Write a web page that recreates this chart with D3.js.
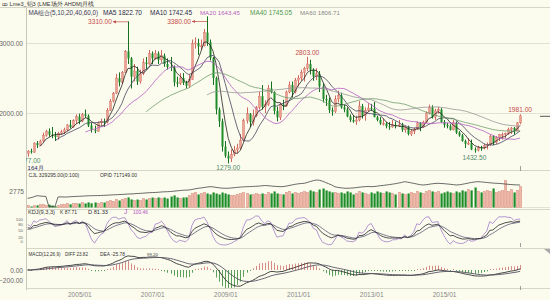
<!DOCTYPE html>
<html><head><meta charset="utf-8">
<script src="https://cdn.jsdelivr.net/npm/d3@7"></script>
<style>
body{margin:0;background:#fcfcee;}
svg{display:block;font-family:"Liberation Sans",Arial,sans-serif;}
</style></head>
<body><svg id="c" width="550" height="300"></svg>
<script>
// ---------- DATA (monthly, 2003/08 .. 2017/02) ----------
const startLabel = "2003/08";
const opens = [
1420,1455,1440,1570,1540,
1600,1680,1740,1690,1680,1660,1710,1730,1760,1830,1800,1890,
1950,1880,1980,1960,1820,1760,1740,1860,1880,1870,2040,2170,
2280,2500,2440,2580,2880,2780,2520,2600,2450,2560,2720,2700,
2850,2780,2850,2760,2820,2700,2660,2650,2440,2420,2500,2430,
2390,2480,2990,3000,2950,2960,3150,3010,2790,2500,2050,1880,
1520,1390,1350,1410,1470,1500,1610,1890,1990,1870,1960,2080,
2240,2090,2120,2350,2300,2030,1940,2120,2100,2300,2400,2300,
2470,2500,2580,2640,2700,2620,2520,2560,2380,2200,2180,2040,
2020,2200,2250,2080,2050,1950,1900,1880,1900,2100,1960,2040,
2070,2060,1940,1900,1850,1850,1810,1800,1830,1810,1830,1760,
1800,1700,1740,1770,1860,1800,1870,2000,2080,1940,2030,2050,
1870,1830,1810,1760,1860,1720,1680,1600,1560,1570,1480,1470,
1510,1500,1540,1550,1670,1575,1650,1690,1690,1705,1765,1785,
1745,1860];
const highs = [
1470,1490,1580,1600,1620,
1720,1760,1780,1800,1730,1730,1760,1790,1840,1900,1910,1980,
1990,2000,2050,1980,1860,1820,1880,1920,1920,2070,2200,2300,
2560,2580,2600,2900,3310,2800,2700,2660,2620,2780,2800,2900,
2880,2900,2880,2900,2850,2780,2800,2680,2520,2570,2570,2460,
2550,3050,3080,3060,3050,3200,3380,3050,2800,2520,2080,1920,
1600,1450,1480,1530,1560,1700,1920,2080,2000,2050,2100,2300,
2400,2180,2400,2450,2310,2090,2150,2190,2320,2450,2450,2500,
2540,2620,2660,2803,2760,2640,2640,2600,2420,2260,2220,2080,
2250,2320,2290,2120,2080,1980,1970,1960,2170,2130,2080,2140,
2130,2160,1960,1940,1920,1870,1870,1900,1880,1900,1860,1810,
1820,1760,1790,1880,1870,1890,2020,2120,2110,2060,2090,2070,
1900,1860,1840,1900,1880,1740,1700,1620,1640,1620,1510,1530,
1530,1560,1580,1690,1680,1670,1700,1720,1720,1790,1800,1800,
1870,1981];
const lows = [
1377,1420,1430,1500,1530,
1590,1660,1660,1640,1600,1620,1690,1700,1740,1780,1790,1840,
1840,1870,1930,1800,1720,1710,1730,1820,1800,1850,2030,2150,
2270,2380,2420,2570,2700,2350,2450,2400,2420,2540,2620,2690,
2700,2760,2700,2720,2660,2620,2600,2380,2370,2400,2400,2350,
2360,2470,2920,2830,2900,2950,2960,2750,2400,1980,1800,1450,
1360,1279,1300,1380,1420,1480,1590,1850,1800,1820,1940,2050,
2050,2000,2100,2280,1980,1880,1900,2040,2090,2280,2220,2280,
2380,2460,2450,2600,2550,2460,2470,2300,2150,2100,2000,1960,
2000,2150,2060,2010,1940,1870,1860,1830,1880,1920,1890,2020,
2030,1940,1880,1830,1820,1780,1760,1790,1780,1800,1730,1720,
1680,1670,1700,1760,1740,1790,1860,1980,1920,1900,1990,1860,
1790,1780,1750,1750,1700,1660,1590,1500,1540,1470,1432.5,1450,
1460,1480,1480,1530,1540,1560,1600,1620,1640,1690,1700,1690,
1740,1840];
const closes = [
1455,1440,1570,1540,1600,
1680,1740,1690,1680,1660,1710,1730,1760,1830,1800,1890,1950,
1880,1980,1960,1820,1760,1740,1860,1880,1870,2040,2170,2280,
2500,2440,2580,2880,2780,2520,2600,2450,2560,2720,2700,2850,
2780,2850,2760,2820,2700,2660,2650,2440,2420,2500,2430,2390,
2480,2990,3000,2950,2960,3150,3010,2790,2500,2050,1880,1520,
1390,1350,1410,1470,1500,1610,1890,1990,1870,1960,2080,2240,
2090,2120,2350,2300,2030,1940,2120,2100,2300,2400,2300,2470,
2500,2580,2640,2700,2620,2520,2560,2380,2200,2180,2040,2020,
2200,2250,2080,2050,1950,1900,1880,1900,2100,1960,2040,2070,
2060,1940,1900,1850,1850,1810,1800,1830,1810,1830,1760,1800,
1700,1740,1770,1860,1800,1870,2000,2080,1940,2030,2050,1870,
1830,1810,1760,1860,1720,1680,1600,1560,1570,1480,1470,1510,
1500,1540,1550,1670,1575,1650,1690,1690,1705,1765,1785,1745,
1860,1960];
const volumes = [
31000,16000,28000,33000,45000,
47000,30000,44000,32000,18000,30000,46000,48000,62000,50000,63000,65000,
62000,78000,64000,80000,66000,79000,63000,80000,78000,95000,110000,96000,
125000,110000,128000,142000,158000,126000,112000,125000,110000,140000,126000,142000,
156000,140000,158000,142000,157000,141000,172000,190000,158000,142000,157000,160000,
188000,220000,236000,204000,220000,235000,220000,205000,236000,220000,205000,235000,
220000,205000,190000,188000,204000,220000,236000,220000,204000,205000,220000,204000,
220000,204000,236000,220000,252000,220000,204000,205000,236000,252000,220000,236000,
220000,236000,252000,236000,268000,252000,236000,282000,298000,268000,252000,236000,
236000,220000,236000,220000,252000,236000,204000,220000,252000,236000,220000,204000,
236000,220000,252000,236000,220000,252000,236000,220000,204000,236000,220000,204000,
220000,236000,220000,252000,236000,220000,252000,268000,252000,236000,252000,220000,
236000,252000,236000,220000,252000,236000,268000,252000,282000,268000,314000,252000,
236000,252000,268000,252000,298000,236000,252000,268000,423000,252000,282000,236000,
268000,329295];
const openInterest = [
284000,300000,330000,368000,360000,
350000,345000,10000,10000,10000,326000,330000,325000,326000,335000,340000,345000,
350000,355000,360000,365000,368000,370000,372000,375000,380000,385000,390000,395000,
400000,405000,410000,415000,424000,425000,430000,440000,445000,450000,460000,465000,
470000,475000,480000,490000,495000,499000,505000,515000,525000,535000,545000,550000,
554000,570000,590000,610000,620000,635000,650000,662000,655000,640000,625000,615000,
610000,612000,620000,630000,640000,650000,655000,662000,665000,670000,675000,680000,
690000,700000,695000,685000,675000,670000,662000,665000,680000,700000,720000,740000,
755000,765000,773000,800000,830000,860000,880000,870000,840000,800000,760000,720000,
662000,640000,625000,615000,610000,615000,620000,630000,645000,655000,662000,670000,
662000,668000,680000,695000,705000,717000,730000,745000,760000,780000,800000,825000,
810000,790000,770000,750000,730000,717000,725000,740000,755000,765000,773000,765000,
760000,750000,740000,730000,717000,725000,740000,760000,780000,800000,815000,825000,
820000,810000,800000,790000,780000,773000,770000,760000,750000,740000,730000,725000,
720000,717149];

const xTickLabels = ["2005/01","2007/01","2009/01","2011/01","2013/01","2015/01"];
const xTickIndex  = [17,41,65,89,113,137];
const priceTicks = [2000,3000];
const kdjTicks = [100,80,50,20,0];
const macdTicks = [0,-200];
const maPeriods = [5,10,20,40,60];
const maLegend = ["MA5 1822.70","MA10 1742.45","MA20 1643.45","MA40 1745.05","MA60 1806.71"];
const extremeLabels = [
  {i:33, v:3310, text:"3310.00", kind:"arrow"},
  {i:59, v:3380, text:"3380.00", kind:"arrow"},
  {i:92, v:2803, text:"2803.00", kind:"high"},
  {i:162, v:1981, text:"1981.00", kind:"high"},
  {i:66, v:1279, text:"1279.00", kind:"low"},
  {i:147, v:1432.5, text:"1432.50", kind:"low"},
  {i:0, v:1377, text:"1377.00", kind:"low"}
];

// ---------- LAYOUT ----------
const W=550,H=300,L=27,R=550;
const FS=6.6;
const svg=d3.select("#c");
svg.append("rect").attr("width",W).attr("height",H).attr("fill","#fcfcee");
const N=closes.length;
const x=d3.scaleLinear().domain([17,137]).range([79.3,444.1]);
const yP=d3.scaleLinear().domain([2000,3000]).range([113,43]);
const yV=d3.scaleLinear().domain([0,470000]).range([207.5,177.5]);
const yOI=d3.scaleLinear().domain([0,880000]).range([207,180]);
const yK=d3.scaleLinear().domain([0,100]).range([241.3,219.3]);
const yM=d3.scaleLinear().domain([0,-200]).range([270,280.7]);

const defs=svg.append("defs");
function clip(id,y0,y1,x0){defs.append("clipPath").attr("id",id).append("rect").attr("x",x0||L).attr("y",y0).attr("width",R-(x0||L)).attr("height",y1-y0);}
clip("cMain",8,170); clip("cVol",171,209); clip("cKdj",209,248); clip("cMacd",249,288);
clip("cLab",8,172,26);

// separators & frame
const sep="#d6d6c6";
[7.5,170.5,209.5,248.5,288.5].forEach(y=>svg.append("line").attr("x1",y===7.5?0:L).attr("x2",W).attr("y1",y).attr("y2",y).attr("stroke",sep).attr("stroke-width",1));
svg.append("line").attr("x1",26.5).attr("x2",26.5).attr("y1",8).attr("y2",290).attr("stroke","#c8c8b8");

// gridlines
const gridC="#e2e2d2";
const gGrid=svg.append("g");
priceTicks.forEach(v=>gGrid.append("line").attr("x1",L).attr("x2",W).attr("y1",Math.round(yP(v))+0.5).attr("y2",Math.round(yP(v))+0.5).attr("stroke",gridC));
gGrid.append("line").attr("x1",L).attr("x2",W).attr("y1",207.5).attr("y2",207.5).attr("stroke",gridC);

// axes labels
function yAxis(scale,ticks,fmt,fs){
  const a=d3.axisLeft(scale).tickValues(ticks).tickFormat(fmt).tickSize(0).tickPadding(2);
  const g=svg.append("g").attr("transform","translate(25,0)").call(a);
  g.select(".domain").remove();
  g.selectAll("text").attr("font-size",fs||FS).attr("fill","#666").attr("font-family","Liberation Sans, Arial");
  return g;
}
yAxis(yP,priceTicks,d3.format(".2f"));
yAxis(yK,kdjTicks,d3.format("d"),4.3);
yAxis(yM,macdTicks,d3.format(".2f"));
svg.append("text").attr("x",24).attr("y",194).attr("text-anchor","end").attr("font-size",FS).attr("fill","#666").text("2775");

const xa=d3.axisBottom(x).tickValues(xTickIndex).tickFormat((d,i)=>xTickLabels[i]).tickSize(0).tickPadding(4);
const gx=svg.append("g").attr("transform","translate(0,288)").call(xa);
gx.select(".domain").remove();
gx.selectAll("text").attr("font-size",FS).attr("fill","#888");

// ---------- candles ----------
const idx=d3.range(N);
const upC="#eba090", upW="#d06860", dnC="#1f8c2a", dnW="#157020";
const gC=svg.append("g").attr("clip-path","url(#cMain)");
const px=i=>Math.round(x(i))+0.5;
gC.selectAll("line.w").data(idx).join("line")
  .attr("x1",px).attr("x2",px).attr("y1",i=>yP(highs[i])).attr("y2",i=>yP(lows[i]))
  .attr("stroke",i=>closes[i]>=opens[i]?upW:dnW).attr("stroke-width",1);
gC.selectAll("rect.b").data(idx).join("rect")
  .attr("x",i=>Math.round(x(i))-0.5).attr("width",2)
  .attr("y",i=>Math.min(yP(opens[i]),yP(closes[i])))
  .attr("height",i=>Math.max(1,Math.abs(yP(opens[i])-yP(closes[i]))))
  .attr("fill",i=>closes[i]>=opens[i]?upC:dnC)
  .attr("stroke",i=>closes[i]>=opens[i]?upW:"none").attr("stroke-width",0.4);

// moving averages
const maColors=["#222222","#44445e","#b25cc0","#6c9c6c","#979797"];
maPeriods.forEach((p,k)=>{
  const ma=idx.map(i=>i<p-1?null:d3.mean(closes.slice(i-p+1,i+1)));
  gC.append("path").attr("d",d3.line().defined(i=>ma[i]!=null).x(i=>x(i)).y(i=>yP(ma[i]))(idx))
    .attr("fill","none").attr("stroke",maColors[k]).attr("stroke-width",0.8);
});

// extreme labels
const hiCol="#c44a4a", loCol="#4f8a6c";
const gL=svg.append("g").attr("clip-path","url(#cLab)");
extremeLabels.forEach(d=>{
  const cx=x(d.i);
  if(d.kind==="arrow"){
    const y=Math.max(yP(d.v),21)+0.5;
    gL.append("text").attr("x",cx-16).attr("y",y+2.3).attr("text-anchor","end").attr("font-size",FS).attr("fill",hiCol).text(d.text);
    gL.append("line").attr("x1",cx-15).attr("x2",cx).attr("y1",y).attr("y2",y).attr("stroke",hiCol).attr("stroke-width",0.7);
    gL.append("path").attr("d",`M${cx-15},${y}l3,-1.6v3.2z`).attr("fill",hiCol);
  } else if(d.kind==="high"){
    gL.append("text").attr("x",cx).attr("y",yP(d.v)-4.5+2.3).attr("text-anchor","middle").attr("font-size",FS).attr("fill",hiCol).text(d.text);
  } else {
    const off=d.i===0?3.6:4.5;
    gL.append("text").attr("x",d.i===0?cx+1:cx).attr("y",yP(d.v)+off+2.3).attr("text-anchor","middle").attr("font-size",FS).attr("fill",loCol).text(d.text);
  }
});
svg.append("text").attr("x",27.5).attr("y",170).attr("font-size",6.1).attr("fill","#2a2a5a").text("164月");

// ---------- volume ----------
const gV=svg.append("g").attr("clip-path","url(#cVol)");
gV.selectAll("rect").data(idx).join("rect")
  .attr("x",i=>Math.round(x(i))-0.5).attr("width",2.2)
  .attr("y",i=>yV(volumes[i])).attr("height",i=>yV(0)-yV(volumes[i]))
  .attr("fill",i=>closes[i]>=opens[i]?"#f0b8a8":"#1f8c2a")
  .attr("stroke",i=>closes[i]>=opens[i]?"#cf7a6e":"none").attr("stroke-width",0.4);
gV.append("path").attr("d",d3.line().x(i=>x(i)).y(i=>yOI(openInterest[i]))(idx))
  .attr("fill","none").attr("stroke","#444").attr("stroke-width",0.8);

// ---------- KDJ ----------
const K=[],D=[],J=[];
let pk=50,pd=50;
idx.forEach(i=>{
  const s=Math.max(0,i-8);
  const lo=d3.min(lows.slice(s,i+1)), hi=d3.max(highs.slice(s,i+1));
  const rsv=hi===lo?50:(closes[i]-lo)/(hi-lo)*100;
  pk=(2*pk+rsv)/3; pd=(2*pd+pk)/3;
  K.push(pk); D.push(pd); J.push(3*pk-2*pd);
});
const gK=svg.append("g").attr("clip-path","url(#cKdj)");
[[J,"#a07cc8"],[D,"#5a5a78"],[K,"#222"]].forEach(([arr,c])=>{
  gK.append("path").attr("d",d3.line().x(i=>x(i)).y(i=>yK(arr[i]))(idx))
    .attr("fill","none").attr("stroke",c).attr("stroke-width",0.8);
});

// ---------- MACD ----------
const DIFF=[],DEA=[],MACD=[];
let e12=closes[0],e26=closes[0],dea=0;
idx.forEach(i=>{
  e12=e12*11/13+closes[i]*2/13; e26=e26*25/27+closes[i]*2/27;
  const df=e12-e26; dea=dea*8/10+df*2/10;
  DIFF.push(df); DEA.push(dea); MACD.push(2*(df-dea));
});
const gM=svg.append("g").attr("clip-path","url(#cMacd)");
gM.selectAll("line").data(idx).join("line")
  .attr("x1",px).attr("x2",px).attr("y1",yM(0)).attr("y2",i=>{const y=yM(MACD[i]);return Math.abs(y-yM(0))<1?yM(0)+(MACD[i]>=0?-1:1):y;})
  .attr("stroke",i=>MACD[i]>=0?"#d88a86":"#5aa05a").attr("stroke-width",1);
[[DIFF,"#333"],[DEA,"#555566"]].forEach(([arr,c])=>{
  gM.append("path").attr("d",d3.line().x(i=>x(i)).y(i=>yM(arr[i]))(idx))
    .attr("fill","none").attr("stroke",c).attr("stroke-width",0.9);
});

// ---------- legends & title ----------
const NARROW="'Liberation Sans Narrow','Liberation Sans',Arial,sans-serif";
function t(xp,yp,s,c,len){
  const e=svg.append("text").attr("x",xp).attr("y",yp).attr("font-size",FS).attr("fill",c||"#333")
    .attr("font-family",NARROW).text(s);
  if(len){
    const w=e.node().getComputedTextLength();
    if(w>0) e.attr("font-size",Math.min(7.2,FS*len/w));
  }
  return e;
}
t(2,5.5,"ꝏ Lme3_铝3 (LME场外 AHDM)月线","#333",92);
t(28.5,15,"MA组合(5,10,20,40,60,0)","#3a3a5a",71);
const maLegX=[103,150,200,250,300], maLegW=[39,42,40,42,40];
maLegend.forEach((s,k)=>t(maLegX[k],15,s,["#2a2a4a","#2a2a4a","#b25cc0","#4f9a4f","#888"][k],maLegW[k]));
t(28.5,177,"CJL  329295.00(0:100)","#333",51);
t(100,177,"OPID  717149.00","#333",37);
t(28,213.5,"KDJ(9,3,3)","#333",27);
t(60,213.5,"K  87.71","#333",17);
t(88,213.5,"D  81.33","#333",20);
t(124,213.5,"J","#b050c0");
t(133,213.5,"100.46","#b050c0",15);
t(28.5,255.5,"MACD(12,26,9)","#333",32);
t(65,255.5,"DIFF  23.82","#333",23);
t(100,255.5,"DEA  -25.78","#333",25);
t(147,255.5,"99.20","#333",11);

// cursor ticks and markers at last bar
const lastX=px(N-1);
[[166,171],[243,247],[286,290]].forEach(([a,b])=>svg.append("line").attr("x1",lastX).attr("x2",lastX).attr("y1",a).attr("y2",b).attr("stroke","#888").attr("stroke-width",0.8));
svg.append("line").attr("x1",540).attr("x2",550).attr("y1",yP(closes[N-1])+0.5).attr("y2",yP(closes[N-1])+0.5).attr("stroke","#555");
svg.append("path").attr("d","M544,249H550V254Z").attr("fill","#aaa");
</script></body></html>
